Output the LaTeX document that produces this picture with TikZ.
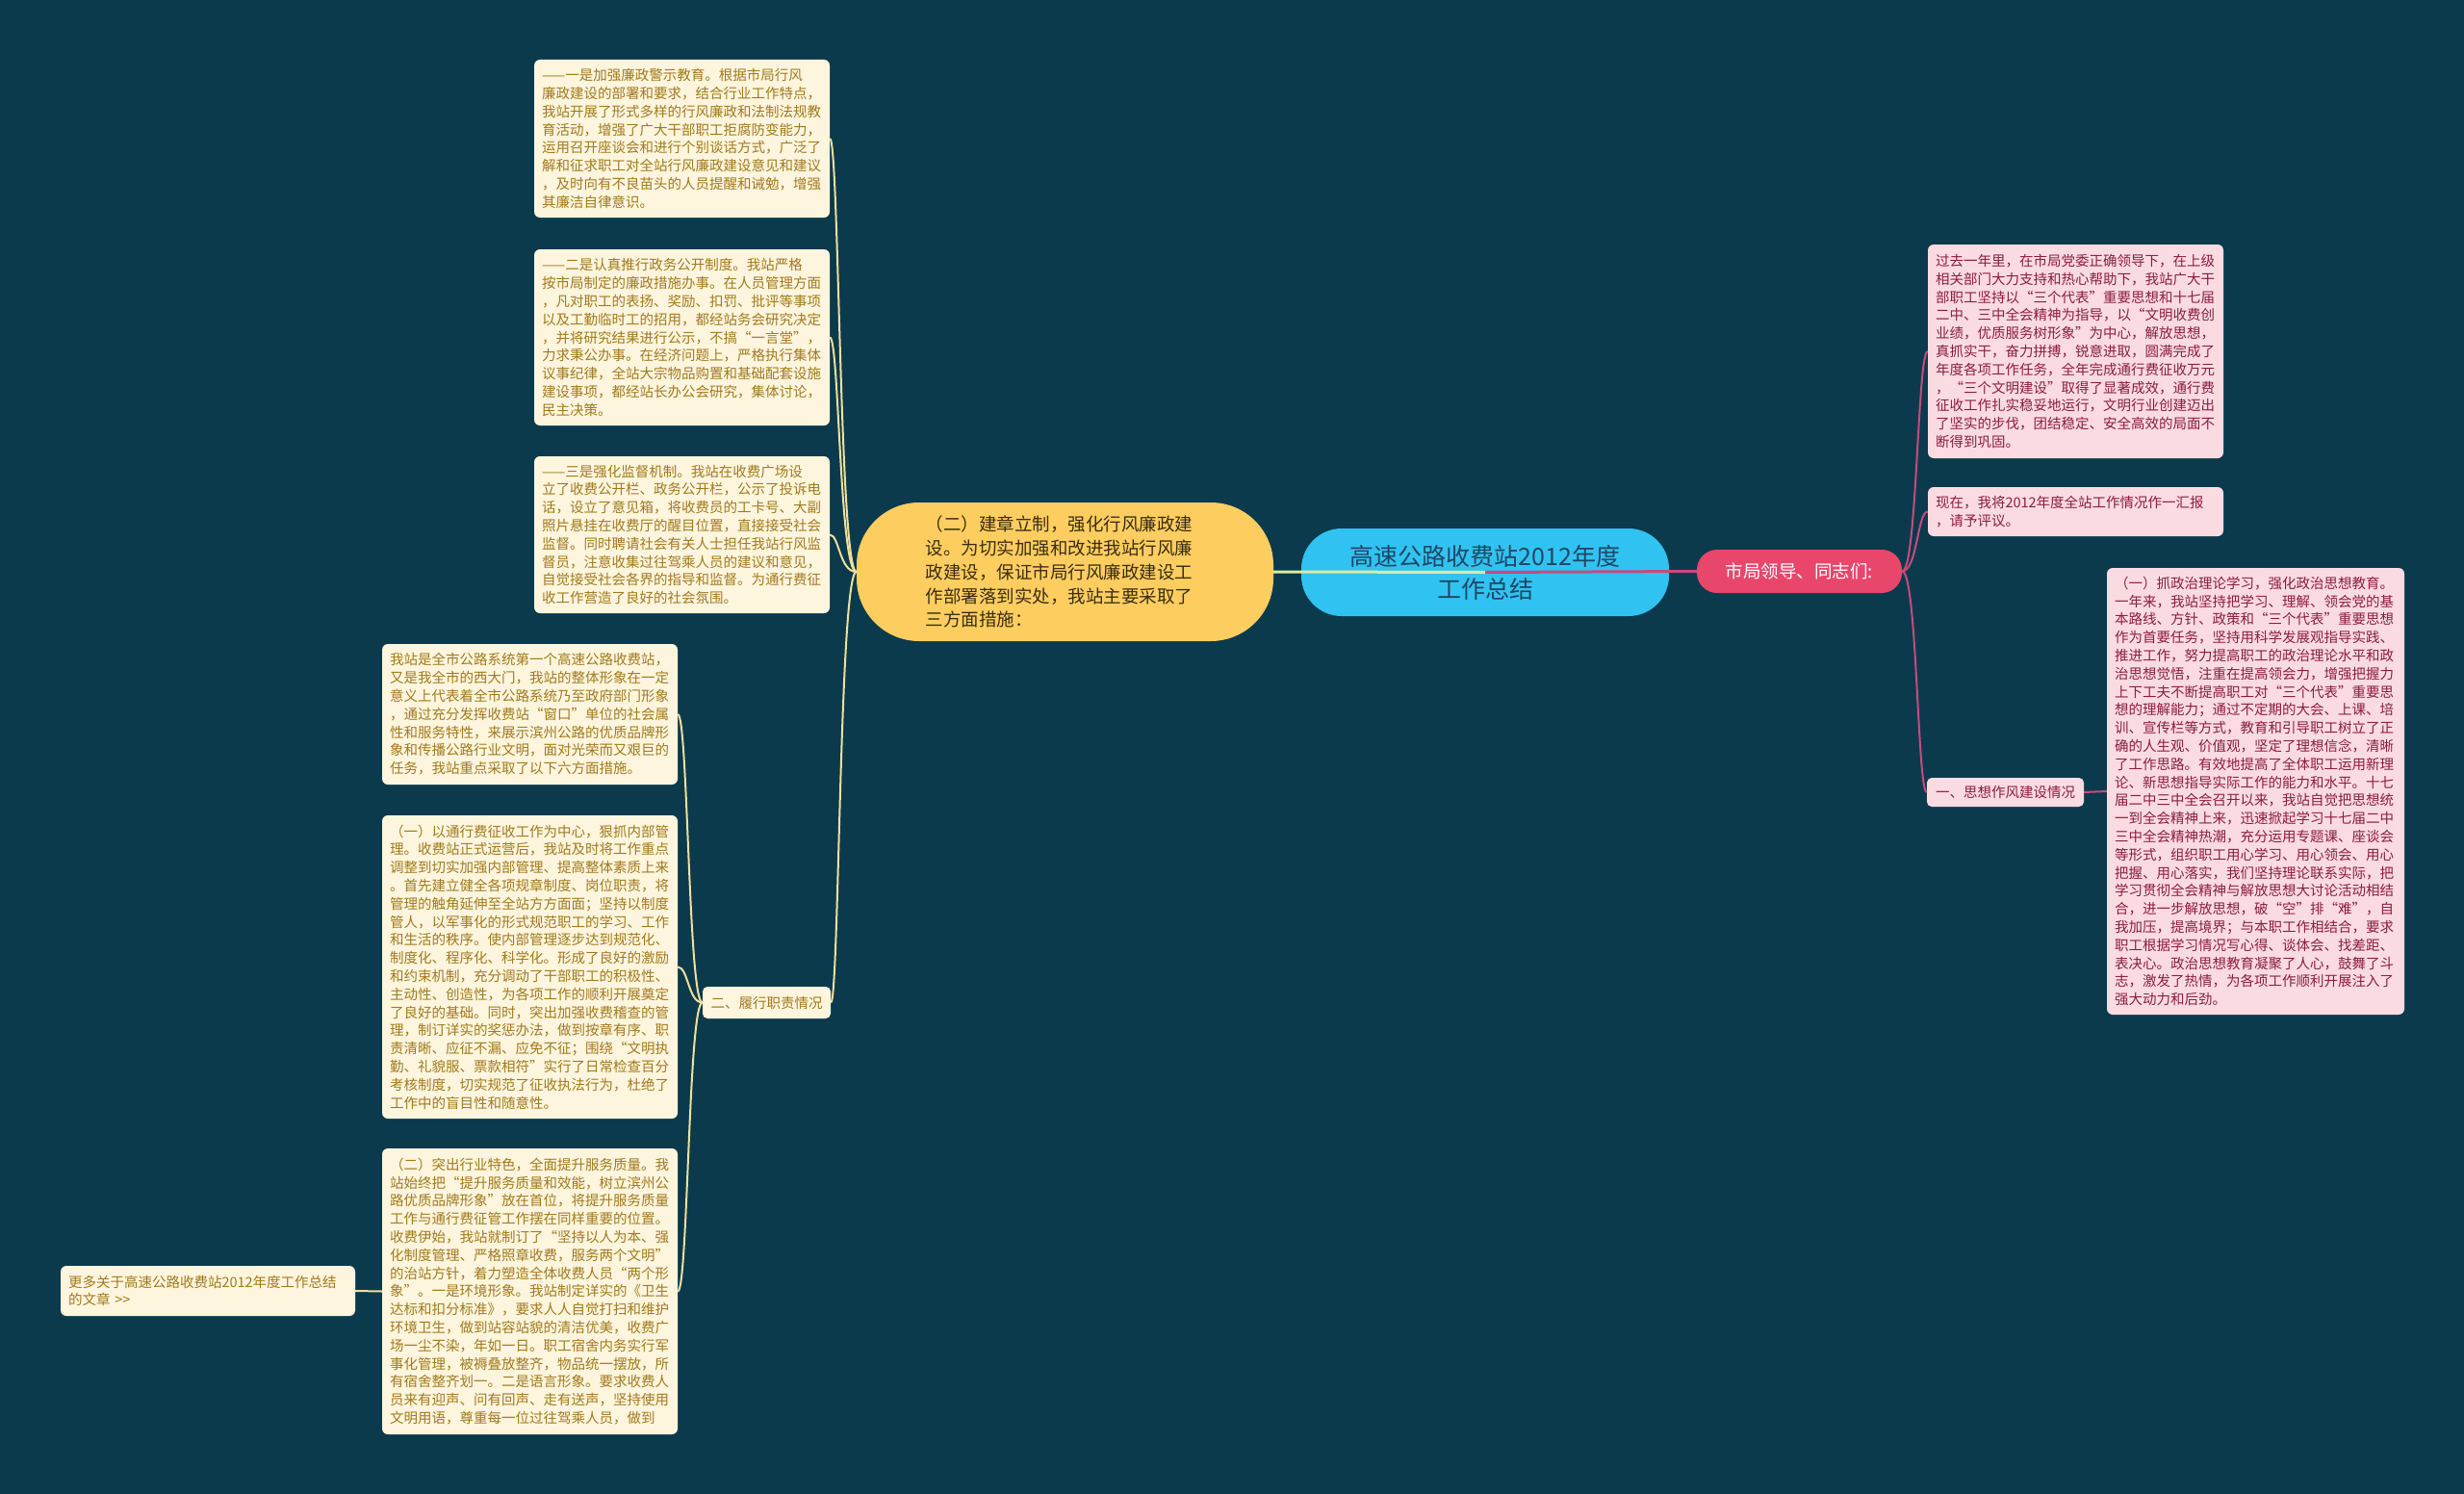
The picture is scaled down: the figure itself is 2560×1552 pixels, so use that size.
\documentclass[tikz,border=0pt]{standalone}
\usepackage{fontspec}
\setmainfont{Noto Sans CJK SC}
\definecolor{bg}{HTML}{0B3A4D}
\definecolor{rootfill}{HTML}{30C3F1}
\definecolor{roottext}{HTML}{1F4766}
\definecolor{yfill}{HTML}{FECD60}
\definecolor{ytext}{HTML}{3A2E10}
\definecolor{redfill}{HTML}{E8466B}
\definecolor{lfill}{HTML}{FDF5DD}
\definecolor{ltext}{HTML}{A27A1E}
\definecolor{rfill}{HTML}{FBDBE2}
\definecolor{rtext}{HTML}{8C1D40}
\definecolor{lline}{HTML}{F1DF9C}
\definecolor{cline}{HTML}{DCEBA2}
\definecolor{rline}{HTML}{C84A7E}
\begin{document}
\begin{tikzpicture}[x=1pt,y=-1pt,
  lbox/.style={fill=lfill,text=ltext,rounded corners=6pt,inner xsep=8pt,inner ysep=0pt,text width=291pt,align=left,font=\fontsize{14.5}{18.8}\selectfont},
  rbox/.style={lbox,fill=rfill,text=rtext},
  ltag/.style={fill=lfill,text=ltext,rounded corners=5pt,inner xsep=8pt,inner ysep=0pt,font=\fontsize{14.5}{18.8}\selectfont},
  rtag/.style={ltag,fill=rfill,text=rtext},
  lconn/.style={draw=lline,line width=2pt},
  rconn/.style={draw=rline,line width=2pt},
]
\fill[bg] (0,0) rectangle (2560,1552);
\useasboundingbox (0,0) rectangle (2560,1552);

% central nodes
\node[fill=yfill,text=ytext,rounded corners=65pt,minimum width=433pt,minimum height=144pt,text width=290pt,align=left,font=\fontsize{18.5}{24.9}\selectfont] (yel) at (1106.5,594)
{（二）建章立制，强化行风廉政建\\设。为切实加强和改进我站行风廉\\政建设，保证市局行风廉政建设工\\作部署落到实处，我站主要采取了\\三方面措施：};
\node[fill=rootfill,text=roottext,rounded corners=42pt,minimum width=382pt,minimum height=91pt,align=center,font=\fontsize{25}{34}\selectfont] (root) at (1543,594.5)
{高速公路收费站2012年度\\工作总结};
\node[fill=redfill,text=white,rounded corners=21pt,minimum width=213pt,minimum height=45pt,font=\fontsize{18.5}{22}\selectfont] (red) at (1869.5,593.5)
{市局领导、同志们:};

% left boxes
\node[lbox,minimum height=164pt] (L1) at (708.5,144)
{——一是加强廉政警示教育。根据市局行风\\廉政建设的部署和要求，结合行业工作特点，\\我站开展了形式多样的行风廉政和法制法规教\\育活动，增强了广大干部职工拒腐防变能力，\\运用召开座谈会和进行个别谈话方式，广泛了\\解和征求职工对全站行风廉政建设意见和建议\\，及时向有不良苗头的人员提醒和诫勉，增强\\其廉洁自律意识。};
\node[lbox,minimum height=183pt] (L2) at (708.5,350.5)
{——二是认真推行政务公开制度。我站严格\\按市局制定的廉政措施办事。在人员管理方面\\，凡对职工的表扬、奖励、扣罚、批评等事项\\以及工勤临时工的招用，都经站务会研究决定\\，并将研究结果进行公示，不搞“一言堂”，\\力求秉公办事。在经济问题上，严格执行集体\\议事纪律，全站大宗物品购置和基础配套设施\\建设事项，都经站长办公会研究，集体讨论，\\民主决策。};
\node[lbox,minimum height=163pt] (L3) at (708.5,555.5)
{——三是强化监督机制。我站在收费广场设\\立了收费公开栏、政务公开栏，公示了投诉电\\话，设立了意见箱，将收费员的工卡号、大副\\照片悬挂在收费厅的醒目位置，直接接受社会\\监督。同时聘请社会有关人士担任我站行风监\\督员，注意收集过往驾乘人员的建议和意见，\\自觉接受社会各界的指导和监督。为通行费征\\收工作营造了良好的社会氛围。};
\node[ltag,minimum height=33pt,minimum width=133pt] (LB) at (796.5,1041.5) {二、履行职责情况};
\node[lbox,minimum height=146pt] (L4) at (550.5,742)
{我站是全市公路系统第一个高速公路收费站，\\又是我全市的西大门，我站的整体形象在一定\\意义上代表着全市公路系统乃至政府部门形象\\，通过充分发挥收费站“窗口”单位的社会属\\性和服务特性，来展示滨州公路的优质品牌形\\象和传播公路行业文明，面对光荣而又艰巨的\\任务，我站重点采取了以下六方面措施。};
\node[lbox,minimum height=315pt] (L5) at (550.5,1004.5)
{（一）以通行费征收工作为中心，狠抓内部管\\理。收费站正式运营后，我站及时将工作重点\\调整到切实加强内部管理、提高整体素质上来\\。首先建立健全各项规章制度、岗位职责，将\\管理的触角延伸至全站方方面面；坚持以制度\\管人，以军事化的形式规范职工的学习、工作\\和生活的秩序。使内部管理逐步达到规范化、\\制度化、程序化、科学化。形成了良好的激励\\和约束机制，充分调动了干部职工的积极性、\\主动性、创造性，为各项工作的顺利开展奠定\\了良好的基础。同时，突出加强收费稽查的管\\理，制订详实的奖惩办法，做到按章有序、职\\责清晰、应征不漏、应免不征；围绕“文明执\\勤、礼貌服、票款相符”实行了日常检查百分\\考核制度，切实规范了征收执法行为，杜绝了\\工作中的盲目性和随意性。};
\node[lbox,minimum height=297pt] (L6) at (550.5,1341.5)
{（二）突出行业特色，全面提升服务质量。我\\站始终把“提升服务质量和效能，树立滨州公\\路优质品牌形象”放在首位，将提升服务质量\\工作与通行费征管工作摆在同样重要的位置。\\收费伊始，我站就制订了“坚持以人为本、强\\化制度管理、严格照章收费，服务两个文明”\\的治站方针，着力塑造全体收费人员“两个形\\象”。一是环境形象。我站制定详实的《卫生\\达标和扣分标准》，要求人人自觉打扫和维护\\环境卫生，做到站容站貌的清洁优美，收费广\\场一尘不染，年如一日。职工宿舍内务实行军\\事化管理，被褥叠放整齐，物品统一摆放，所\\有宿舍整齐划一。二是语言形象。要求收费人\\员来有迎声、问有回声、走有送声，坚持使用\\文明用语，尊重每一位过往驾乘人员，做到};
\node[lbox,text width=290pt,minimum height=52pt] (More) at (216,1341)
{更多关于高速公路收费站2012年度工作总结\\的文章 >\kern0pt>};

% right boxes
\node[rbox,minimum height=222pt] (R1) at (2156.5,365)
{过去一年里，在市局党委正确领导下，在上级\\相关部门大力支持和热心帮助下，我站广大干\\部职工坚持以“三个代表”重要思想和十七届\\二中、三中全会精神为指导，以“文明收费创\\业绩，优质服务树形象”为中心，解放思想，\\真抓实干，奋力拼搏，锐意进取，圆满完成了\\年度各项工作任务，全年完成通行费征收万元\\，“三个文明建设”取得了显著成效，通行费\\征收工作扎实稳妥地运行，文明行业创建迈出\\了坚实的步伐，团结稳定、安全高效的局面不\\断得到巩固。};
\node[rbox,minimum height=51pt] (R2) at (2156.5,531.5)
{现在，我将2012年度全站工作情况作一汇报\\，请予评议。};
\node[rtag,minimum height=30pt,minimum width=163pt] (R3L) at (2083.5,823) {一、思想作风建设情况};
\node[rbox,text width=293pt,minimum height=464pt] (R3) at (2343.5,822)
{（一）抓政治理论学习，强化政治思想教育。\\一年来，我站坚持把学习、理解、领会党的基\\本路线、方针、政策和“三个代表”重要思想\\作为首要任务，坚持用科学发展观指导实践、\\推进工作，努力提高职工的政治理论水平和政\\治思想觉悟，注重在提高领会力，增强把握力\\上下工夫不断提高职工对“三个代表”重要思\\想的理解能力；通过不定期的大会、上课、培\\训、宣传栏等方式，教育和引导职工树立了正\\确的人生观、价值观，坚定了理想信念，清晰\\了工作思路。有效地提高了全体职工运用新理\\论、新思想指导实际工作的能力和水平。十七\\届二中三中全会召开以来，我站自觉把思想统\\一到全会精神上来，迅速掀起学习十七届二中\\三中全会精神热潮，充分运用专题课、座谈会\\等形式，组织职工用心学习、用心领会、用心\\把握、用心落实，我们坚持理论联系实际，把\\学习贯彻全会精神与解放思想大讨论活动相结\\合，进一步解放思想，破“空”排“难”，自\\我加压，提高境界；与本职工作相结合，要求\\职工根据学习情况写心得、谈体会、找差距、\\表决心。政治思想教育凝聚了人心，鼓舞了斗\\志，激发了热情，为各项工作顺利开展注入了\\强大动力和后劲。};

% connectors
\draw[cline,line width=3pt] (root.center) -- (yel.east);
\draw[rline,line width=3pt] (root.center) -- (red.west);

\draw[lconn] (yel.west) .. controls (872,594) and (872,144) .. (L1.east);
\draw[lconn] (yel.west) .. controls (872,594) and (872,350.5) .. (L2.east);
\draw[lconn] (yel.west) .. controls (872,594) and (872,555.5) .. (L3.east);
\draw[lconn] (yel.west) .. controls (872,594) and (872,1041.5) .. (LB.east);

\draw[lconn] (LB.west) .. controls (715,1041.5) and (715,742) .. (L4.east);
\draw[lconn] (LB.west) .. controls (715,1041.5) and (715,1004.5) .. (L5.east);
\draw[lconn] (LB.west) .. controls (715,1041.5) and (715,1341.5) .. (L6.east);
\draw[lconn] (L6.west) -- (More.east);

\draw[rconn] (red.east) .. controls (1992,593.5) and (1992,365) .. (R1.west);
\draw[rconn] (red.east) .. controls (1992,593.5) and (1992,531.5) .. (R2.west);
\draw[rconn] (red.east) .. controls (1992,593.5) and (1992,823) .. (R3L.west);
\draw[rconn] (R3L.east) -- (R3.west);
\end{tikzpicture}
\end{document}
